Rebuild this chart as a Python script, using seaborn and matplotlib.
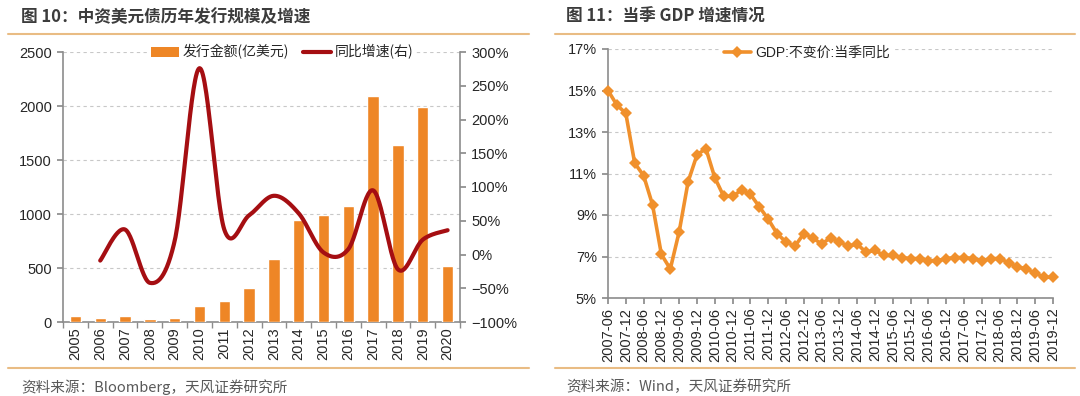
import numpy as np
import pandas as pd
import matplotlib
matplotlib.use("Agg")
import matplotlib.pyplot as plt
from matplotlib.lines import Line2D
from matplotlib.patches import Patch
from matplotlib.ticker import FuncFormatter
import seaborn as sns

# ---------------- data ----------------
years = [str(y) for y in range(2005, 2021)]
issuance = [52, 40, 55, 30, 40, 144, 197, 311, 583, 941, 991, 1074, 2089, 1639, 1987, 521]
growth_years = [str(y) for y in range(2006, 2021)]
growth = [-9, 37, -42, 20, 276, 37, 58, 87, 61, 3, 8, 95, -22, 22, 36]

quarters = []
for yr in range(2007, 2020):
    for m in ["03", "06", "09", "12"]:
        if yr == 2007 and m == "03":
            continue
        quarters.append(f"{yr}-{m}")
gdp = [15.0, 14.3, 13.9,
       11.5, 10.9, 9.5, 7.1,
       6.4, 8.2, 10.6, 11.9,
       12.2, 10.8, 9.9, 9.9,
       10.2, 10.0, 9.4, 8.8,
       8.1, 7.7, 7.5, 8.1,
       7.9, 7.6, 7.9, 7.7,
       7.5, 7.6, 7.2, 7.3,
       7.05, 7.05, 6.95, 6.9,
       6.9, 6.8, 6.8, 6.9,
       6.95, 6.95, 6.9, 6.8,
       6.9, 6.9, 6.7, 6.5,
       6.4, 6.2, 6.0, 6.0]

title_left = "图 10：中资美元债历年发行规模及增速"
title_right = "图 11：当季 GDP 增速情况"
source_left = "资料来源：Bloomberg，天风证券研究所"
source_right = "资料来源：Wind，天风证券研究所"
legend_bar = "发行金额(亿美元)"
legend_line = "同比增速(右)"
legend_gdp = "GDP:不变价:当季同比"

# ---------------- style ----------------
sns.set_theme(style="white")
plt.rcParams["font.family"] = ["Liberation Sans", "Noto Sans CJK SC", "DejaVu Sans"]
plt.rcParams["axes.unicode_minus"] = True

BAR = "#EE8626"
RED = "#A50E12"
GDPC = "#F0902C"
SPINE = "#8C8C8C"
GRID = "#C8C8C8"
TXT = "#262626"
HDR = "#E9BC84"

W, H = 1080, 396
fig = plt.figure(figsize=(W / 100, H / 100), dpi=100)
fig.patch.set_facecolor("white")

def fx(px):
    return px / W

def fy(py):
    return 1 - py / H

# headers & footers
cjk = ["Noto Sans CJK SC", "DejaVu Sans"]
fig.text(fx(21), fy(17), title_left, fontsize=12, fontweight="bold", color="#3C3C3C",
         va="center", ha="left", family=cjk)
fig.text(fx(566), fy(17), title_right, fontsize=12, fontweight="bold", color="#3C3C3C",
         va="center", ha="left", family=cjk)
fig.text(fx(21), fy(387), source_left, fontsize=10.5, color="#595959", va="center",
         ha="left", family=cjk)
fig.text(fx(566), fy(387), source_right, fontsize=10.5, color="#595959", va="center",
         ha="left", family=cjk)
for (x0, x1) in [(8, 529), (555, 1075)]:
    for yy in (34, 368):
        fig.add_artist(Line2D([fx(x0), fx(x1)], [fy(yy), fy(yy)], color=HDR, lw=1.5,
                              transform=fig.transFigure))

# ---------------- left chart ----------------
ax = fig.add_axes([fx(63), fy(322), fx(460 - 63), (322 - 52) / H])
df_bar = pd.DataFrame({"year": years, "amount": issuance})
sns.barplot(data=df_bar, x="year", y="amount", ax=ax, color=BAR, saturation=1,
            width=0.46, zorder=3)
ax.set_xlim(-0.5, len(years) - 0.5)
ax.set_ylim(0, 2500)
ax.set_yticks(np.arange(0, 2501, 500))
ax.set_xlabel("")
ax.set_ylabel("")
ax.yaxis.grid(True, linestyle=(0, (3, 3)), color=GRID, lw=0.8, zorder=0)
ax.set_axisbelow(True)
for s in ["top", "right"]:
    ax.spines[s].set_visible(False)
for s in ["left", "bottom"]:
    ax.spines[s].set_color(SPINE)
    ax.spines[s].set_linewidth(1.2)
ax.tick_params(axis="y", which="major", direction="out", length=4, color=SPINE,
               labelsize=10.5, labelcolor=TXT, pad=4, left=True)
ax.tick_params(axis="x", which="major", length=0, labelsize=10.5, labelcolor=TXT,
               rotation=90, pad=4)
ax.set_xticks(np.arange(-0.5, len(years), 1.0), minor=True)
ax.tick_params(axis="x", which="minor", direction="out", length=4, color=SPINE, bottom=True)

# smoothed growth line (Catmull-Rom through the data points)
def catmull_rom(xp, yp, n=30):
    pts = np.column_stack([xp, yp]).astype(float)
    out = []
    for i in range(len(pts) - 1):
        p0 = pts[i - 1] if i > 0 else pts[i]
        p1 = pts[i]
        p2 = pts[i + 1]
        p3 = pts[i + 2] if i + 2 < len(pts) else pts[i + 1]
        t = np.linspace(0, 1, n)[:, None]
        seg = 0.5 * ((2 * p1) + (-p0 + p2) * t + (2 * p0 - 5 * p1 + 4 * p2 - p3) * t ** 2
                     + (-p0 + 3 * p1 - 3 * p2 + p3) * t ** 3)
        out.append(seg if i == 0 else seg[1:])
    arr = np.vstack(out)
    return arr[:, 0], arr[:, 1]

ax2 = ax.twinx()
gx = np.array([years.index(y) for y in growth_years])
sx, sy = catmull_rom(gx, np.array(growth, dtype=float))
ax2.plot(sx, sy, color=RED, lw=3, solid_capstyle="round", zorder=4)
ax2.set_ylim(-100, 300)
ax2.set_yticks(np.arange(-100, 301, 50))
ax2.yaxis.set_major_formatter(FuncFormatter(lambda v, p: f"{v:.0f}%".replace("-", "\u2212")))
for s in ["top", "left", "bottom"]:
    ax2.spines[s].set_visible(False)
ax2.spines["right"].set_color(SPINE)
ax2.spines["right"].set_linewidth(1.2)
ax2.tick_params(axis="y", direction="out", length=4, color=SPINE, labelsize=10.5,
                labelcolor=TXT, pad=4, right=True)
ax2.grid(False)
handles = [Patch(facecolor=BAR, edgecolor="none"),
           Line2D([], [], color=RED, lw=3)]
leg = ax2.legend(handles, [legend_bar, legend_line], loc="center",
                 bbox_to_anchor=(0.552, 1.0), ncol=2, frameon=True,
                 handlelength=2.0, handleheight=0.7, columnspacing=1.0, handletextpad=0.3,
                 borderpad=0.2, prop={"family": cjk, "size": 10})
leg.get_frame().set_facecolor("white")
leg.get_frame().set_edgecolor("none")
leg.get_frame().set_alpha(1)
for t in leg.get_texts():
    t.set_color(TXT)

# ---------------- right chart ----------------
bx = fig.add_axes([fx(608), fy(298), fx(1053 - 608), (298 - 49) / H])
df_gdp = pd.DataFrame({"i": np.arange(len(quarters)), "gdp": gdp})
sns.lineplot(data=df_gdp, x="i", y="gdp", ax=bx, color=GDPC, lw=2.6, marker="D",
             markersize=6.5, markeredgewidth=0, label=legend_gdp, clip_on=False, zorder=4)
bx.set_xlim(0, len(quarters) - 1)
bx.set_ylim(5, 17)
bx.set_yticks(np.arange(5, 17.1, 2))
bx.yaxis.set_major_formatter(FuncFormatter(lambda v, p: f"{v:.0f}%"))
bx.set_xticks(np.arange(0, len(quarters), 2))
bx.set_xticklabels([quarters[i] for i in range(0, len(quarters), 2)])
bx.set_xlabel("")
bx.set_ylabel("")
bx.yaxis.grid(True, linestyle=(0, (3, 3)), color=GRID, lw=0.8, zorder=0)
bx.set_axisbelow(True)
for s in ["top", "right"]:
    bx.spines[s].set_visible(False)
for s in ["left", "bottom"]:
    bx.spines[s].set_color(SPINE)
    bx.spines[s].set_linewidth(1.2)
bx.tick_params(axis="y", direction="out", length=4, color=SPINE, labelsize=10.5,
               labelcolor=TXT, pad=4, left=True)
bx.tick_params(axis="x", direction="out", length=4, color=SPINE, labelsize=10.5,
               labelcolor=TXT, rotation=90, pad=3, bottom=True)
leg2 = bx.legend(loc="center", bbox_to_anchor=(0.447, 0.985), frameon=True,
                 handlelength=2.0, handletextpad=0.3, borderpad=0.2,
                 prop={"family": ["Liberation Sans", "Noto Sans CJK SC"], "size": 10})
leg2.get_frame().set_facecolor("white")
leg2.get_frame().set_edgecolor("none")
leg2.get_frame().set_alpha(1)
for t in leg2.get_texts():
    t.set_color(TXT)

fig.savefig("out.png", dpi=100, facecolor="white")
